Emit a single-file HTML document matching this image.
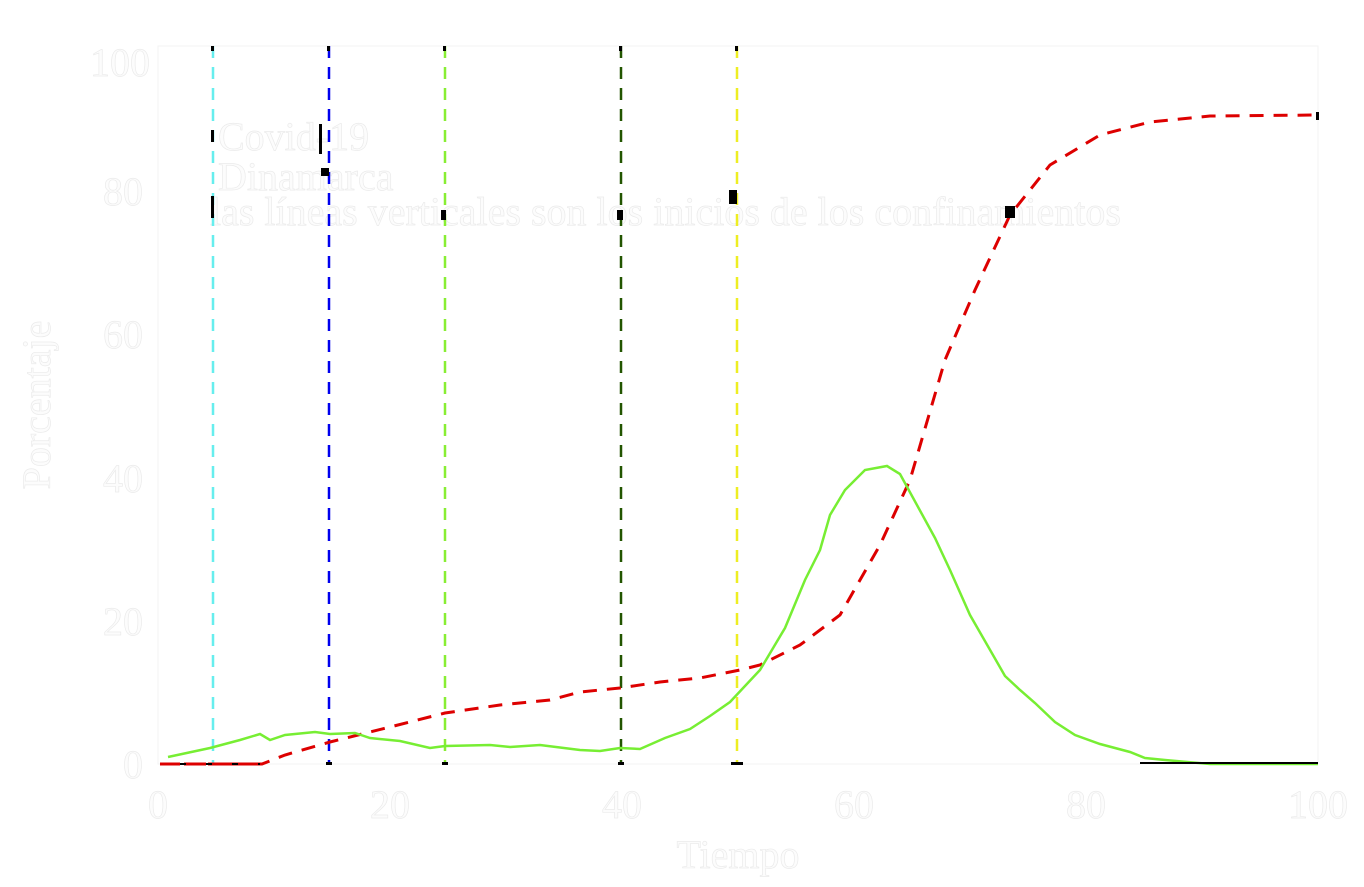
<!DOCTYPE html>
<html><head><meta charset="utf-8"><style>
html,body{margin:0;padding:0;background:#fff;}
svg{display:block;}
</style></head><body>
<svg width="1364" height="887" viewBox="0 0 1364 887" xmlns="http://www.w3.org/2000/svg" font-family="Liberation Serif, serif">
<rect width="1364" height="887" fill="#fff"/>
<rect x="158" y="46" width="1160" height="718" fill="none" stroke="#f3f3f3" stroke-width="1"/>
<g fill="#fcfcfc" stroke="#ebebeb" stroke-width="0.7" font-size="40">
<text x="150" y="76" text-anchor="end">100</text>
<text x="143" y="205" text-anchor="end">80</text>
<text x="143" y="348" text-anchor="end">60</text>
<text x="143" y="492" text-anchor="end">40</text>
<text x="143" y="635" text-anchor="end">20</text>
<text x="143" y="778" text-anchor="end">0</text>
<text x="158" y="818" text-anchor="middle">0</text>
<text x="390" y="818" text-anchor="middle">20</text>
<text x="622" y="818" text-anchor="middle">40</text>
<text x="854" y="818" text-anchor="middle">60</text>
<text x="1086" y="818" text-anchor="middle">80</text>
<text x="1318" y="818" text-anchor="middle">100</text>
<text x="738" y="868" text-anchor="middle">Tiempo</text>
<text transform="translate(50,405) rotate(-90)" text-anchor="middle">Porcentaje</text>
<text x="218" y="150">Covid-19</text>
<text x="218" y="190">Dinamarca</text>
<text x="210" y="225">las líneas verticales son los inicios de los confinamientos</text>
</g>
<g stroke-width="2.5" stroke-dasharray="12,9" fill="none">
<line x1="213" y1="46" x2="213" y2="764" stroke="#66eeee"/>
<line x1="329" y1="46" x2="329" y2="764" stroke="#0000ee"/>
<line x1="445" y1="46" x2="445" y2="764" stroke="#88ee33"/>
<line x1="621" y1="46" x2="621" y2="764" stroke="#225500"/>
<line x1="737" y1="46" x2="737" y2="764" stroke="#eeee22"/>
</g>
<polyline fill="none" stroke="#dd0000" stroke-width="3" stroke-dasharray="14,10" points="160,764 262,764 285,755 330,742 390,727 445,713 500,705 550,700 580,692 620,688 660,682 700,678 740,670 760,665 800,645 840,615 880,545 910,480 945,360 975,290 1010,215 1050,165 1100,135 1150,122 1210,116 1318,115"/>
<polyline fill="none" stroke="#77ee33" stroke-width="2.5" points="168,757 210,748 240,740 260,734 270,740 285,735 315,732 330,734 355,733 370,738 400,741 430,748 445,746 490,745 510,747 540,745 580,750 600,751 620,748 640,749 665,738 690,729 710,716 730,702 760,670 785,628 805,580 820,550 830,515 845,490 865,470 887,466 900,474 935,538 950,570 970,615 1005,676 1020,690 1035,703 1055,722 1075,735 1100,744 1130,752 1145,758 1165,760 1210,764 1318,764"/>
<g fill="#000">
<rect x="211" y="46" width="3" height="5"/><rect x="327" y="46" width="3" height="5"/><rect x="443" y="46" width="3" height="5"/><rect x="619" y="46" width="3" height="5"/><rect x="735" y="46" width="3" height="5"/>
<rect x="211" y="130" width="3" height="12"/><rect x="319" y="124" width="3" height="30"/><rect x="321" y="168" width="8" height="8"/><rect x="729" y="190" width="8" height="14"/><rect x="211" y="196" width="3" height="22"/><rect x="441" y="210" width="5" height="10"/><rect x="617" y="210" width="6" height="10"/>
<rect x="1005" y="206" width="10" height="12"/><rect x="1316" y="112" width="3" height="8"/>
<rect x="160" y="763" width="100" height="2"/><rect x="1140" y="762" width="178" height="2"/>
<rect x="326" y="762" width="6" height="3"/><rect x="442" y="762" width="6" height="3"/><rect x="618" y="762" width="6" height="3"/><rect x="731" y="762" width="12" height="3"/>
</g>
<line x1="160" y1="764" x2="262" y2="764" stroke="#dd0000" stroke-width="3" stroke-dasharray="20,6"/>
</svg>
</body></html>
